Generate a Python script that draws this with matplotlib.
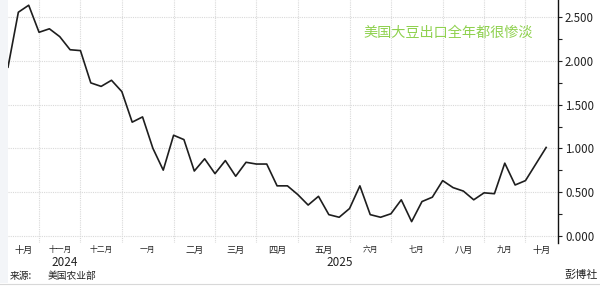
import matplotlib
matplotlib.use("Agg")
import matplotlib.pyplot as plt
import matplotlib.dates as mdates
from matplotlib.patches import Rectangle
from matplotlib.lines import Line2D
import numpy as np
import pandas as pd

plt.rcParams['font.family'] = ['Noto Sans CJK SC', 'DejaVu Sans']

# Weekly US soybean export sales (million tonnes), week ending Thursday
start_date = "2024-10-17"
values = [1.93, 2.56, 2.64, 2.33, 2.37, 2.28, 2.13, 2.12, 1.75, 1.71,
          1.78, 1.65, 1.30, 1.36, 1.00, 0.75, 1.15, 1.10, 0.74, 0.88,
          0.71, 0.86, 0.68, 0.84, 0.82, 0.82, 0.57, 0.57, 0.47, 0.35,
          0.45, 0.24, 0.21, 0.31, 0.57, 0.24, 0.21, 0.25, 0.41, 0.16,
          0.39, 0.44, 0.63, 0.55, 0.51, 0.41, 0.49, 0.48, 0.83, 0.58,
          0.63, 0.82, 1.01]
month_labels = ['十月', '十一月', '十二月', '一月', '二月', '三月', '四月',
                '五月', '六月', '七月', '八月', '九月', '十月']
year_labels = ['2024', '2025']
y_ticks = [0.0, 0.5, 1.0, 1.5, 2.0, 2.5]
title = '美国大豆出口全年都很惨淡'
source_label = '来源:'
source_name = '美国农业部'
brand = '彭博社'

dates = pd.date_range(start_date, periods=len(values), freq='7D')

W, H = 600, 286
fig = plt.figure(figsize=(W / 100, H / 100), dpi=100)
fig.patch.set_facecolor('white')

# left light strip
fig.add_artist(Rectangle((0, 3 / H), 8 / W, 1 - 3 / H, transform=fig.transFigure,
                         facecolor='#f3f5f8', edgecolor='none', zorder=0))
# bottom separator line
fig.add_artist(Line2D([0, 1], [2.5 / H, 2.5 / H], transform=fig.transFigure,
                      color='#d8d8d8', lw=0.8))

ax_h = 243
ax = fig.add_axes([8 / W, (H - ax_h) / H, 550 / W, ax_h / H])
ax.set_facecolor('white')

x = mdates.date2num(dates)
ax.plot(x, values, color='#1e1e1e', lw=1.2, zorder=3)

xmin = x[0]
xmax = x[-1] + 8
ax.set_xlim(xmin, xmax)
ax.set_ylim(-0.085, 2.70)

# month boundaries: first weekly point within each month
months = dates.to_period('M')
bounds = [x[i] for i in range(1, len(dates)) if months[i] != months[i - 1]]
for b in bounds:
    ax.axvline(b, color='#d9d9d9', lw=0.8, ls=(0, (1, 1)), zorder=1)
for yv in y_ticks:
    ax.axhline(yv, color='#d9d9d9', lw=0.8, ls=(0, (1, 1)), zorder=1)

edges = [xmin] + bounds + [xmax]
centers = [(edges[i] + edges[i + 1]) / 2 for i in range(len(edges) - 1)]
big = {0, 4, 5, 6, 7, 10, 12}
ax.set_xticks([])
for i, (c, lab) in enumerate(zip(centers, month_labels)):
    ax.text(c, -7 / ax_h, lab, transform=ax.get_xaxis_transform(),
            ha='center', va='center', fontsize=6.6 if i in big else 5.6,
            color='#222222')

# year labels
ax.text((65 - 8) / 550, -19 / ax_h, year_labels[0], transform=ax.transAxes,
        ha='center', va='center', fontsize=8.5, color='#222222')
ax.text((340 - 8) / 550, -19 / ax_h, year_labels[1], transform=ax.transAxes,
        ha='center', va='center', fontsize=8.5, color='#222222')

# y axis on right
ax.yaxis.tick_right()
ax.set_yticks(y_ticks)
ax.set_yticklabels([f'{v:.3f}' for v in y_ticks], fontsize=8.3, color='#222222')
ax.set_yticks(np.arange(0.25, 2.7, 0.5), minor=True)
ax.tick_params(axis='y', which='major', length=3, width=0.8, pad=2, color='#222222')
ax.tick_params(axis='y', which='minor', length=3, width=0.8, color='#222222')
for s in ['left', 'top', 'bottom']:
    ax.spines[s].set_visible(False)
ax.spines['right'].set_color('#111111')
ax.spines['right'].set_linewidth(1.0)

# title annotation
fig.text(448 / W, 1 - 33 / H, title, ha='center', va='center',
         fontsize=10.2, color='#8fd14f')

# footer
fig.text(10 / W, 10 / H, source_label, ha='left', va='center', fontsize=7.0, color='#222222')
fig.text(48 / W, 10 / H, source_name, ha='left', va='center', fontsize=7.0, color='#222222')
fig.text(598 / W, 11 / H, brand, ha='right', va='center', fontsize=8.0, color='#222222')

fig.savefig('out.png', dpi=100, facecolor='white')
